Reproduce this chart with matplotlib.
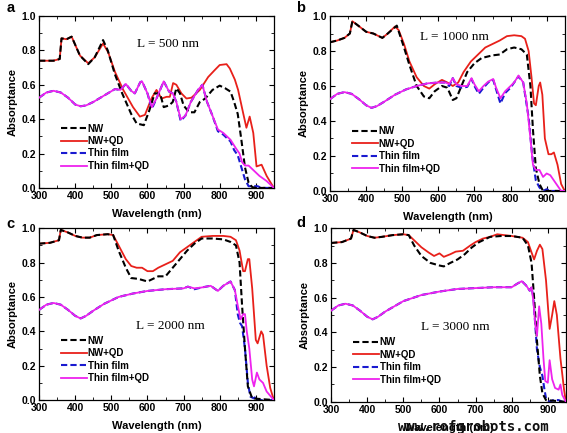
import matplotlib.pyplot as plt
import matplotlib.transforms as mtransforms
from matplotlib.ticker import MultipleLocator

plt.rcParams['font.family'] = ['Liberation Sans', 'DejaVu Sans']
plt.rcParams['font.weight'] = 'bold'

# ---- panel a : L = 500 nm ----
a_nw_x = [300, 340, 357, 362, 376, 390, 413, 436, 454, 477, 490, 510, 530, 555, 570, 590, 605, 620, 635, 645,
          660, 670, 680, 690, 700, 715, 730, 745, 760, 780, 800, 815, 830, 840, 850, 860, 870, 880, 890, 900, 950]
a_nw_y = [0.74, 0.74, 0.75, 0.87, 0.865, 0.88, 0.77, 0.72, 0.76, 0.86, 0.80, 0.66, 0.55, 0.43, 0.375, 0.365, 0.45, 0.55, 0.55, 0.47,
          0.48, 0.50, 0.58, 0.55, 0.48, 0.44, 0.44, 0.50, 0.52, 0.57, 0.595, 0.58, 0.56, 0.50, 0.43, 0.28, 0.12, 0.03, 0.005, 0.0, 0.0]
a_nwqd_x = [300, 339, 357, 362, 376, 390, 413, 436, 454, 477, 491, 510, 533, 560, 579, 593, 611, 625, 639, 653, 662,
            671, 680, 694, 708, 722, 745, 768, 786, 800, 819, 828, 842, 851, 865, 874, 883, 893, 902, 916, 930, 950]
a_nwqd_y = [0.74, 0.74, 0.75, 0.87, 0.865, 0.88, 0.77, 0.725, 0.76, 0.84, 0.79, 0.675, 0.57, 0.47, 0.415, 0.425, 0.52, 0.57, 0.52, 0.53, 0.53,
            0.61, 0.60, 0.55, 0.52, 0.525, 0.57, 0.645, 0.685, 0.715, 0.72, 0.695, 0.63, 0.57, 0.435, 0.35, 0.415, 0.32, 0.125, 0.135, 0.07, 0.0]
a_tf_x = [300, 320, 340, 360, 380, 400, 415, 430, 450, 470, 490, 510, 525, 540, 555, 565, 580, 585, 600, 612, 625, 645,
          660, 670, 680, 692, 705, 720, 740, 752, 765, 780, 795, 810, 830, 840, 850, 860, 870, 880, 895, 905, 915, 950]
a_tf_y = [0.525, 0.555, 0.565, 0.555, 0.525, 0.485, 0.475, 0.48, 0.50, 0.525, 0.55, 0.575, 0.57, 0.605, 0.565, 0.55, 0.615, 0.62, 0.55, 0.46, 0.52, 0.62,
          0.56, 0.55, 0.50, 0.39, 0.42, 0.50, 0.57, 0.60, 0.50, 0.42, 0.33, 0.31, 0.27, 0.22, 0.19, 0.12, 0.05, 0.01, 0.01, 0.01, 0.0, 0.0]
a_tfqd_x = [300, 320, 340, 360, 380, 400, 415, 430, 450, 470, 490, 510, 525, 540, 555, 565, 580, 585, 600, 612, 625, 645,
            660, 670, 680, 692, 705, 720, 740, 752, 765, 780, 795, 810, 830, 845, 855, 862, 870, 880, 890, 910, 930, 950]
a_tfqd_y = [0.525, 0.555, 0.565, 0.555, 0.525, 0.485, 0.475, 0.48, 0.50, 0.525, 0.55, 0.575, 0.57, 0.605, 0.565, 0.55, 0.615, 0.62, 0.55, 0.47, 0.52, 0.62,
            0.56, 0.55, 0.50, 0.40, 0.42, 0.50, 0.57, 0.60, 0.50, 0.42, 0.34, 0.32, 0.28, 0.23, 0.20, 0.15, 0.13, 0.13, 0.11, 0.07, 0.04, 0.0]

# ---- panel b : L = 1000 nm ----
b_nw_x = [300, 320, 340, 355, 362, 375, 400, 420, 445, 460, 485, 505, 520, 540, 560, 575, 590, 610, 625, 640, 650,
          660, 680, 700, 720, 750, 770, 790, 810, 830, 845, 855, 862, 870, 880, 890, 950]
b_nw_y = [0.85, 0.86, 0.875, 0.90, 0.97, 0.95, 0.91, 0.90, 0.875, 0.90, 0.945, 0.82, 0.72, 0.60, 0.54, 0.53, 0.57, 0.60, 0.59, 0.52, 0.53,
          0.58, 0.68, 0.73, 0.76, 0.775, 0.78, 0.81, 0.82, 0.81, 0.78, 0.60, 0.35, 0.13, 0.04, 0.0, 0.0]
b_nwqd_x = [300, 320, 340, 355, 362, 375, 400, 420, 445, 460, 480, 490, 505, 520, 540, 560, 575, 590, 610, 625, 640, 655,
            670, 690, 710, 730, 750, 770, 790, 810, 830, 840, 850, 858, 865, 870, 878, 882, 888, 895, 905, 913, 920, 930, 940, 950]
b_nwqd_y = [0.85, 0.86, 0.875, 0.90, 0.97, 0.95, 0.91, 0.90, 0.875, 0.90, 0.94, 0.92, 0.84, 0.74, 0.65, 0.60, 0.585, 0.61, 0.635, 0.62, 0.60, 0.62,
            0.68, 0.74, 0.78, 0.82, 0.84, 0.86, 0.885, 0.89, 0.885, 0.87, 0.80, 0.65, 0.50, 0.49, 0.60, 0.62, 0.55, 0.30, 0.21, 0.21, 0.22, 0.15, 0.04, 0.0]
b_tf_x = [300, 320, 340, 360, 380, 400, 415, 430, 450, 480, 510, 540, 570, 600, 620, 630, 640, 650, 665, 680, 692,
          700, 712, 725, 738, 752, 760, 772, 785, 800, 810, 822, 835, 850, 860, 870, 880, 890, 900, 910, 950]
b_tf_y = [0.525, 0.555, 0.565, 0.555, 0.525, 0.49, 0.475, 0.485, 0.51, 0.55, 0.58, 0.60, 0.615, 0.62, 0.62, 0.60, 0.645, 0.60, 0.59, 0.595, 0.64,
          0.60, 0.555, 0.59, 0.62, 0.635, 0.58, 0.50, 0.56, 0.59, 0.62, 0.655, 0.62, 0.42, 0.20, 0.06, 0.02, 0.0, 0.01, 0.0, 0.0]
b_tfqd_x = [300, 320, 340, 360, 380, 400, 415, 430, 450, 480, 510, 540, 570, 600, 620, 630, 640, 650, 665, 680, 692,
            700, 712, 725, 738, 752, 760, 772, 785, 800, 810, 822, 835, 845, 855, 862, 870, 880, 890, 900, 910, 920, 930, 940, 950]
b_tfqd_y = [0.525, 0.555, 0.565, 0.555, 0.525, 0.49, 0.475, 0.485, 0.51, 0.55, 0.58, 0.60, 0.615, 0.62, 0.62, 0.61, 0.645, 0.61, 0.60, 0.60, 0.645,
            0.61, 0.57, 0.60, 0.625, 0.64, 0.59, 0.53, 0.57, 0.60, 0.62, 0.66, 0.62, 0.50, 0.30, 0.15, 0.12, 0.12, 0.08, 0.10, 0.09, 0.06, 0.03, 0.0, 0.0]

# ---- panel c : L = 2000 nm ----
c_nw_x = [300, 330, 355, 360, 380, 400, 420, 440, 460, 490, 505, 520, 540, 555, 575, 600, 615, 630, 650, 670, 690,
          710, 730, 750, 780, 810, 830, 845, 855, 862, 870, 878, 890, 950]
c_nw_y = [0.91, 0.915, 0.93, 0.99, 0.975, 0.955, 0.945, 0.945, 0.96, 0.965, 0.96, 0.87, 0.77, 0.71, 0.705, 0.69, 0.705, 0.72, 0.72, 0.77, 0.82,
          0.87, 0.91, 0.94, 0.94, 0.935, 0.92, 0.90, 0.80, 0.55, 0.30, 0.08, 0.01, 0.0]
c_nwqd_x = [300, 330, 355, 360, 380, 400, 420, 440, 460, 490, 505, 520, 540, 555, 570, 585, 600, 615, 630, 650, 670,
            690, 710, 730, 750, 780, 810, 830, 845, 855, 865, 870, 878, 882, 890, 900, 905, 915, 920, 930, 940, 950]
c_nwqd_y = [0.91, 0.915, 0.93, 0.99, 0.975, 0.955, 0.945, 0.945, 0.96, 0.965, 0.96, 0.90, 0.82, 0.78, 0.77, 0.77, 0.75, 0.75, 0.77, 0.79, 0.81,
            0.86, 0.89, 0.92, 0.95, 0.955, 0.955, 0.95, 0.93, 0.87, 0.75, 0.75, 0.82, 0.82, 0.65, 0.35, 0.33, 0.40, 0.38, 0.20, 0.07, 0.0]
c_tf_x = [300, 320, 340, 360, 380, 400, 415, 430, 450, 480, 520, 560, 600, 650, 700, 712, 730, 750, 775, 795, 810,
          830, 842, 850, 856, 862, 870, 878, 885, 895, 900, 905, 950]
c_tf_y = [0.525, 0.555, 0.565, 0.555, 0.525, 0.49, 0.475, 0.49, 0.52, 0.56, 0.60, 0.62, 0.635, 0.645, 0.65, 0.66, 0.645, 0.655, 0.665, 0.635, 0.665,
          0.69, 0.64, 0.50, 0.45, 0.43, 0.30, 0.10, 0.02, 0.01, 0.02, 0.0, 0.0]
c_tfqd_x = [300, 320, 340, 360, 380, 400, 415, 430, 450, 480, 520, 560, 600, 650, 700, 712, 730, 750, 775, 795, 810,
            830, 842, 850, 858, 865, 870, 875, 882, 890, 895, 903, 910, 920, 930, 950]
c_tfqd_y = [0.525, 0.555, 0.565, 0.555, 0.525, 0.49, 0.475, 0.49, 0.52, 0.56, 0.60, 0.62, 0.635, 0.645, 0.65, 0.66, 0.65, 0.655, 0.665, 0.635, 0.665,
            0.69, 0.64, 0.55, 0.47, 0.50, 0.50, 0.40, 0.30, 0.12, 0.08, 0.16, 0.12, 0.10, 0.05, 0.0]

# ---- panel d : L = 3000 nm ----
d_nw_x = [300, 330, 355, 362, 380, 400, 420, 440, 470, 500, 515, 530, 550, 575, 600, 612, 630, 650, 670, 690,
          710, 740, 770, 800, 830, 845, 855, 862, 870, 878, 885, 895, 950]
d_nw_y = [0.915, 0.92, 0.94, 0.99, 0.975, 0.955, 0.945, 0.95, 0.96, 0.965, 0.96, 0.90, 0.84, 0.80, 0.785, 0.78, 0.80, 0.82, 0.85, 0.89,
          0.92, 0.95, 0.955, 0.955, 0.945, 0.90, 0.80, 0.60, 0.35, 0.15, 0.05, 0.01, 0.0]
d_nwqd_x = [300, 330, 355, 362, 380, 400, 420, 440, 470, 500, 515, 530, 550, 570, 585, 600, 612, 630, 645, 665, 685,
            700, 720, 740, 760, 780, 800, 830, 845, 855, 862, 870, 878, 885, 895, 905, 912, 918, 925, 935, 945, 950]
d_nwqd_y = [0.915, 0.92, 0.94, 0.99, 0.975, 0.955, 0.945, 0.95, 0.96, 0.965, 0.96, 0.93, 0.89, 0.86, 0.84, 0.855, 0.835, 0.85, 0.865, 0.87, 0.90,
            0.92, 0.94, 0.95, 0.965, 0.96, 0.955, 0.945, 0.92, 0.86, 0.82, 0.87, 0.905, 0.88, 0.70, 0.42, 0.50, 0.58, 0.50, 0.25, 0.07, 0.0]
d_tf_x = [300, 320, 340, 360, 380, 400, 415, 430, 450, 500, 550, 600, 650, 700, 750, 800, 815, 828, 840, 850, 855,
          860, 865, 870, 878, 885, 890, 895, 905, 915, 930, 940, 950]
d_tf_y = [0.525, 0.555, 0.565, 0.555, 0.525, 0.49, 0.475, 0.49, 0.52, 0.58, 0.615, 0.635, 0.65, 0.655, 0.66, 0.66, 0.68, 0.695, 0.67, 0.64, 0.66,
          0.60, 0.45, 0.30, 0.20, 0.15, 0.08, 0.02, 0.0, 0.01, 0.01, 0.0, 0.0]
d_tfqd_x = [300, 320, 340, 360, 380, 400, 415, 430, 450, 500, 550, 600, 650, 700, 750, 800, 815, 828, 840, 850, 855,
            860, 865, 870, 876, 882, 888, 893, 900, 905, 912, 920, 930, 935, 940, 950]
d_tfqd_y = [0.525, 0.555, 0.565, 0.555, 0.525, 0.49, 0.475, 0.49, 0.52, 0.58, 0.615, 0.635, 0.65, 0.655, 0.66, 0.66, 0.68, 0.695, 0.67, 0.64, 0.66,
            0.58, 0.45, 0.38, 0.55, 0.45, 0.25, 0.12, 0.11, 0.24, 0.13, 0.08, 0.07, 0.10, 0.04, 0.0]

panel_letters = ['a', 'b', 'c', 'd']
length_labels = ['L = 500 nm', 'L = 1000 nm', 'L = 2000 nm', 'L = 3000 nm']
series_labels = ['NW', 'NW+QD', 'Thin film', 'Thin film+QD']

panels = [
    (a_nw_x, a_nw_y, a_nwqd_x, a_nwqd_y, a_tf_x, a_tf_y, a_tfqd_x, a_tfqd_y),
    (b_nw_x, b_nw_y, b_nwqd_x, b_nwqd_y, b_tf_x, b_tf_y, b_tfqd_x, b_tfqd_y),
    (c_nw_x, c_nw_y, c_nwqd_x, c_nwqd_y, c_tf_x, c_tf_y, c_tfqd_x, c_tfqd_y),
    (d_nw_x, d_nw_y, d_nwqd_x, d_nwqd_y, d_tf_x, d_tf_y, d_tfqd_x, d_tfqd_y),
]

# axes boxes in figure fractions [left, bottom, width, height]
boxes = [
    [0.069, 0.566, 0.414, 0.397],
    [0.582, 0.559, 0.414, 0.404],
    [0.069, 0.076, 0.414, 0.397],
    [0.584, 0.072, 0.414, 0.401],
]
# where the "L = ..." text sits (axes fraction)
l_pos = [(0.55, 0.84), (0.53, 0.88), (0.56, 0.43), (0.53, 0.43)]
# panel letter positions (figure fraction)
letter_pos = [(0.012, 0.982), (0.522, 0.982), (0.012, 0.483), (0.522, 0.485)]

fig = plt.figure(figsize=(5.67, 4.33), dpi=100)
shift = mtransforms.ScaledTranslation(5 / 72, 0, fig.dpi_scale_trans)

for i, (box, data) in enumerate(zip(boxes, panels)):
    ax = fig.add_axes(box)
    nw_x, nw_y, nwqd_x, nwqd_y, tf_x, tf_y, tfqd_x, tfqd_y = data
    ax.plot(nw_x, nw_y, color='black', ls=(0, (3, 1.5)), lw=1.5, label=series_labels[0], zorder=3)
    ax.plot(nwqd_x, nwqd_y, color='#e8201a', lw=1.3, label=series_labels[1], zorder=2)
    ax.plot(tf_x, tf_y, color='#1a1ad0', ls=(0, (3, 1.5)), lw=1.5, label=series_labels[2], zorder=2)
    ax.plot(tfqd_x, tfqd_y, color='#ee22ee', lw=1.3, label=series_labels[3], zorder=3)

    ax.set_xlim(300, 950)
    ax.set_ylim(0, 1.0)
    ax.xaxis.set_major_locator(MultipleLocator(100))
    ax.xaxis.set_minor_locator(MultipleLocator(50))
    ax.yaxis.set_major_locator(MultipleLocator(0.2))
    ax.yaxis.set_minor_locator(MultipleLocator(0.1))
    ax.tick_params(which='both', direction='in', top=True, right=True, labelsize=7.5, pad=2)
    ax.tick_params(which='major', length=3.5)
    ax.tick_params(which='minor', length=2)
    ax.yaxis.set_major_formatter(plt.FuncFormatter(lambda v, p: f'{v:.1f}'))
    fig.canvas.draw()
    for lab in ax.get_xticklabels() + ax.get_yticklabels():
        lab.set_fontweight('bold')
    # first wavelength label sits a bit to the right, clear of "0.0"
    first = ax.get_xticklabels()[0]
    first.set_transform(first.get_transform() + shift)
    for sp in ax.spines.values():
        sp.set_linewidth(0.9)

    ax.set_xlabel('Wavelength (nm)', fontsize=8, fontweight='bold', labelpad=6)
    ax.set_ylabel('Absorptance', fontsize=8, fontweight='bold', labelpad=3)

    ax.text(*l_pos[i], length_labels[i], transform=ax.transAxes, ha='center', va='center',
            fontsize=9.5, family='Liberation Serif', fontweight='normal')

    leg = ax.legend(loc='lower left', bbox_to_anchor=(0.07, 0.065), frameon=False, fontsize=7,
                    handlelength=2.6, handletextpad=0.1, labelspacing=0.25, borderaxespad=0.2)
    for t in leg.get_texts():
        t.set_fontweight('bold')

    fig.text(*letter_pos[i], panel_letters[i], fontsize=10.5,
             fontweight='bold', ha='left', va='center')

fig.text(0.835, 0.015, 'www.rofgrobots.com', family='DejaVu Sans Mono', fontsize=10,
         ha='center', va='center', color='#111111')

fig.savefig('out.png', dpi=100)
